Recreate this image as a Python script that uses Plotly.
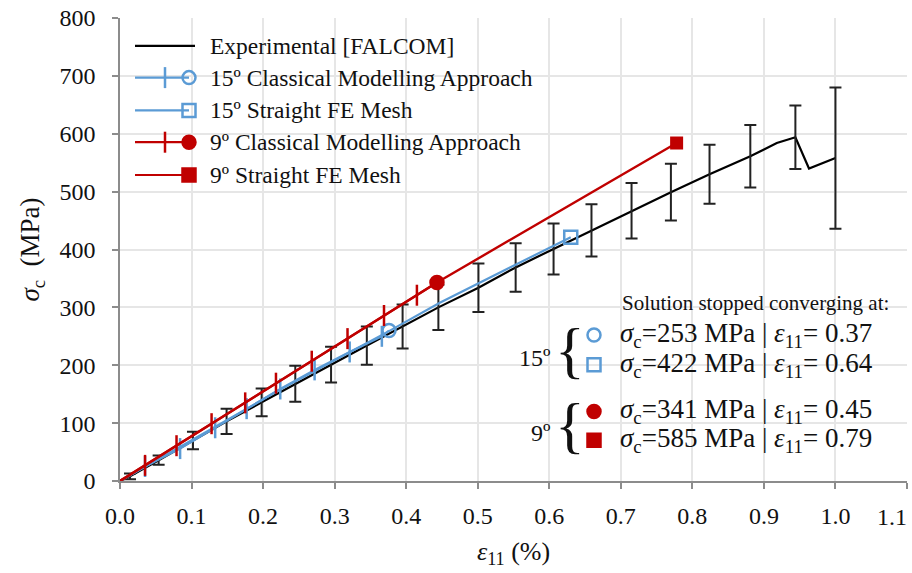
import plotly.graph_objects as go

# ---------------- data ----------------
exp_x = [0, 0.014, 0.054, 0.102, 0.149, 0.198, 0.245, 0.295, 0.345, 0.395, 0.445,
         0.501, 0.553, 0.606, 0.659, 0.715, 0.770, 0.824, 0.881, 0.918, 0.944, 0.963, 1.0]
exp_y = [0, 8, 36, 70, 103, 136, 168, 201, 234, 267, 300,
         334, 369, 401, 433, 467, 499, 530, 561, 584, 594, 540, 558]

bar_x = [0.014, 0.054, 0.102, 0.149, 0.198, 0.245, 0.295, 0.345, 0.395, 0.445,
         0.501, 0.553, 0.606, 0.659, 0.715, 0.770, 0.824, 0.881, 0.944, 1.0]
bar_y = [8, 36, 70, 103, 136, 168, 201, 234, 267, 300,
         334, 369, 401, 433, 467, 499, 530, 561, 594, 558]
bar_err = [5, 8, 15, 22, 24, 31, 31, 33, 38, 39,
           42, 42, 44, 45, 48, 49, 51, 54, 55, 122]

b15_cl_x = [0, 0.035, 0.084, 0.133, 0.177, 0.224, 0.272, 0.321, 0.366, 0.376]
b15_cl_y = [0, 25, 56, 92, 125, 159, 192, 223, 250, 260]

b15_st_x = [0, 0.224, 0.376, 0.447, 0.545, 0.630]
b15_st_y = [0, 158, 259, 308, 369, 421]

r9_cl_x = [0, 0.035, 0.079, 0.128, 0.175, 0.218, 0.268, 0.318, 0.369, 0.415, 0.443]
r9_cl_y = [0, 27, 61, 99, 135, 169, 207, 246, 286, 321, 343]

r9_st_x = [0, 0.443, 0.778]
r9_st_y = [0, 343, 584]

legend_labels = ["Experimental [FALCOM]", "15º Classical Modelling Approach",
                 "15º Straight FE Mesh", "9º Classical Modelling Approach",
                 "9º Straight FE Mesh"]
stop_values = [("253", "0.37"), ("422", "0.64"), ("341", "0.45"), ("585", "0.79")]

x_ticks = [0.0, 0.1, 0.2, 0.3, 0.4, 0.5, 0.6, 0.7, 0.8, 0.9, 1.0, 1.1]
x_tick_text = ["0.0", "0.1", "0.2", "0.3", "0.4", "0.5", "0.6", "0.7", "0.8", "0.9", "1.0", "1.1"]
y_ticks = [0, 100, 200, 300, 400, 500, 600, 700, 800]

BLUE = "#5B9BD5"
RED = "#C00000"
FONT = "Liberation Serif"
TXT = "#111111"

fig = go.Figure()

# experimental
fig.add_trace(go.Scatter(x=exp_x, y=exp_y, mode="lines",
                         line=dict(color="black", width=2.2), showlegend=False))
fig.add_trace(go.Scatter(x=bar_x, y=bar_y, mode="markers",
                         marker=dict(size=1, opacity=0),
                         error_y=dict(type="data", array=bar_err, visible=True,
                                      color="#222222", thickness=2, width=6),
                         showlegend=False))


def sym_list(n, last):
    return ["line-ns"] * (n - 1) + [last]


def size_list(n, tick, last):
    return [0] + [tick] * (n - 2) + [last]


# 15 deg straight
fig.add_trace(go.Scatter(x=b15_st_x, y=b15_st_y, mode="lines",
                         line=dict(color=BLUE, width=2.2), showlegend=False))
fig.add_trace(go.Scatter(x=[b15_st_x[-1]], y=[b15_st_y[-1]], mode="markers",
                         marker=dict(symbol="square-open", size=13, color=BLUE, opacity=1,
                                     line=dict(color=BLUE, width=2.5)),
                         showlegend=False))
# 15 deg classical
n = len(b15_cl_x)
fig.add_trace(go.Scatter(x=b15_cl_x, y=b15_cl_y, mode="lines+markers",
                         line=dict(color=BLUE, width=2.2),
                         marker=dict(symbol=sym_list(n, "circle-open"),
                                     size=size_list(n, 15, 13), color=BLUE, opacity=1,
                                     line=dict(color=BLUE, width=2.5)),
                         showlegend=False))
# 9 deg straight
fig.add_trace(go.Scatter(x=r9_st_x, y=r9_st_y, mode="lines",
                         line=dict(color=RED, width=2.4), showlegend=False))
fig.add_trace(go.Scatter(x=[r9_st_x[-1]], y=[r9_st_y[-1]], mode="markers",
                         marker=dict(symbol="square", size=13, color=RED, opacity=1),
                         showlegend=False))
# 9 deg classical
n = len(r9_cl_x)
fig.add_trace(go.Scatter(x=r9_cl_x, y=r9_cl_y, mode="lines+markers",
                         line=dict(color=RED, width=2.4),
                         marker=dict(symbol=sym_list(n, "circle"),
                                     size=size_list(n, 15, 13), color=RED, opacity=1,
                                     line=dict(color=RED, width=2.5)),
                         showlegend=False))

# ------------- custom legend on a pixel overlay axis -------------
L_X0, L_X1, L_TICK, L_END, L_TXT = 135, 195, 165, 189, 208
rows = [43, 75, 108, 140, 173]
styles = [("black", None, None), (BLUE, "line-ns", "circle-open"),
          (BLUE, None, "square-open"), (RED, "line-ns", "circle"), (RED, None, "square")]
for (col, tick, end), ry, lab in zip(styles, rows, legend_labels):
    x1 = L_X1 if end is None else L_END
    fig.add_trace(go.Scatter(x=[L_X0, x1], y=[ry, ry], mode="lines",
                             line=dict(color=col, width=2.2), xaxis="x2", yaxis="y2",
                             showlegend=False, hoverinfo="skip"))
    if tick:
        fig.add_trace(go.Scatter(x=[L_TICK], y=[ry], mode="markers",
                                 marker=dict(symbol=tick, size=15, color=col, opacity=1,
                                             line=dict(color=col, width=2.5)),
                                 xaxis="x2", yaxis="y2", showlegend=False, hoverinfo="skip"))
    if end:
        fig.add_trace(go.Scatter(x=[L_END], y=[ry], mode="markers",
                                 marker=dict(symbol=end, size=13, color=col, opacity=1,
                                             line=dict(color=col, width=2.5)),
                                 xaxis="x2", yaxis="y2", showlegend=False, hoverinfo="skip"))
    fig.add_annotation(x=L_TXT, y=ry, xref="x2", yref="y2", text=lab, showarrow=False,
                       xanchor="left", yanchor="middle",
                       font=dict(family=FONT, size=23.5, color=TXT))

# ------------- convergence note -------------
fig.add_annotation(x=620, y=302, xref="x2", yref="y2", text="Solution stopped converging at:",
                   showarrow=False, xanchor="left", yanchor="middle",
                   font=dict(family=FONT, size=21, color=TXT))
note_rows = [334, 364, 411, 440]
note_syms = [(BLUE, "circle-open"), (BLUE, "square-open"), (RED, "circle"), (RED, "square")]
for (val, eps), ry, (col, sym) in zip(stop_values, note_rows, note_syms):
    fig.add_trace(go.Scatter(x=[594], y=[ry], mode="markers",
                             marker=dict(symbol=sym, size=13, color=col, opacity=1,
                                         line=dict(color=col, width=2.5)),
                             xaxis="x2", yaxis="y2", showlegend=False, hoverinfo="skip"))
    fig.add_annotation(x=618, y=ry, xref="x2", yref="y2",
                       text=f"<i>σ</i><sub>c</sub>={val} MPa | <i>ε</i><sub>11</sub>= {eps}",
                       showarrow=False, xanchor="left", yanchor="middle",
                       font=dict(family=FONT, size=27, color=TXT))
for ry, lab in [(349, "15º"), (425, "9º")]:
    fig.add_annotation(x=570, y=ry, xref="x2", yref="y2", text="{", showarrow=False,
                       xanchor="center", yanchor="middle",
                       font=dict(family=FONT, size=62, color=TXT))
    fig.add_annotation(x=553, y=ry + 8, xref="x2", yref="y2", text=lab, showarrow=False,
                       xanchor="right", yanchor="middle",
                       font=dict(family=FONT, size=24, color=TXT))

# last x tick label placed so it stays inside the page
fig.add_annotation(x=1.0, y=0, xref="paper", yref="paper", yshift=-36, xshift=2,
                   text=x_tick_text[-1], showarrow=False, xanchor="right", yanchor="middle",
                   font=dict(family=FONT, size=24, color=TXT))

fig.update_layout(
    width=912, height=573,
    margin=dict(l=120, r=5, t=15, b=92),
    paper_bgcolor="white", plot_bgcolor="white",
    font=dict(family=FONT, size=24, color=TXT),
    xaxis=dict(range=[0, 1.1], tickvals=x_ticks, ticktext=x_tick_text[:-1] + [""],
               showgrid=True, gridcolor="#E6E6E6", gridwidth=1.5,
               showline=True, linecolor="#8C8C8C", linewidth=1.5,
               ticks="outside", ticklen=6, tickcolor="#8C8C8C", tickwidth=1.5,
               ticklabelstandoff=6, zeroline=False,
               tickfont=dict(family=FONT, size=24, color=TXT),
               title=dict(text="<i>ε</i><sub>11</sub> (%)", standoff=14,
                          font=dict(family=FONT, size=26, color=TXT))),
    yaxis=dict(range=[0, 800], tickvals=y_ticks,
               showgrid=True, gridcolor="#E6E6E6", gridwidth=1.5,
               showline=True, linecolor="#8C8C8C", linewidth=1.5,
               ticks="outside", ticklen=6, tickcolor="#8C8C8C", tickwidth=1.5,
               ticklabelstandoff=12, zeroline=False,
               tickfont=dict(family=FONT, size=24, color=TXT),
               title=dict(text="<i>σ</i><sub>c</sub>  (MPa)", standoff=12,
                          font=dict(family=FONT, size=27, color=TXT))),
    xaxis2=dict(overlaying="x", range=[120, 907], visible=False, fixedrange=True),
    yaxis2=dict(overlaying="y", range=[481, 15], visible=False, fixedrange=True),
    showlegend=False,
)

fig.write_html("out.html", config={"displayModeBar": False},
               post_script="document.body.style.margin='0';")
